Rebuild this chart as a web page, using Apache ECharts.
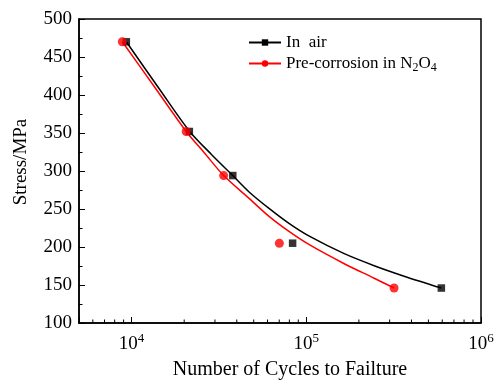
<!DOCTYPE html>
<html><head><meta charset="utf-8">
<script src="https://cdn.jsdelivr.net/npm/echarts@6/dist/echarts.min.js"></script>
<style>html,body{margin:0;padding:0;background:#fff}#c{width:503px;height:381px}</style>
</head><body><div id="c"></div>
<script>
const seriesNames = ['In  air', 'Pre-corrosion in N2O4'];
// measured points
const airCycles = [9330, 21400, 37950, 83500, 593000];
const airStress = [470, 352, 294, 205, 146];
const n2o4Cycles = [8850, 20540, 33650, 70100, 318000];
const n2o4Stress = [470, 352, 294, 205, 146];
// fitted curves
const airFitCycles = [9330, 14454, 21450, 28650, 37950, 47240, 61460, 79960, 104000, 164900, 244700, 363100, 593000];
const airFitStress = [470, 407.6, 352.4, 321.8, 294, 272.1, 250.4, 230.7, 214.2, 191.2, 175.4, 161.6, 146];
const n2o4FitCycles = [8850, 13536, 20540, 26130, 33650, 47240, 61460, 79960, 104000, 164900, 244700, 318000];
const n2o4FitStress = [470, 410.5, 352, 323.7, 294, 263.6, 239.9, 220.1, 203, 178, 158.9, 146];
const xMin = 5000, xMax = 1000000;
const yMin = 100, yMax = 500, yStep = 50;
const xMinorTicks = [6000, 7000, 8000, 9000, 20000, 30000, 40000, 50000, 60000, 70000, 80000, 90000,
  200000, 300000, 400000, 500000, 600000, 700000, 800000, 900000];

const zip = (a, b) => a.map((v, i) => [v, b[i]]);
const FONT = '"Liberation Serif", "Times New Roman", serif';

const chart = echarts.init(document.getElementById('c'), null, {renderer: 'canvas'});
chart.setOption({
  animation: false,
  backgroundColor: '#fff',
  grid: {left: 79, top: 19, right: 22, bottom: 58, outerBoundsMode: 'none', containLabel: false,
    show: true, borderColor: '#000', borderWidth: 1.5, backgroundColor: 'transparent'},
  legend: {
    orient: 'vertical', left: 243, top: 29, itemWidth: 32, itemHeight: 8, itemGap: 4,
    data: seriesNames,
    formatter: n => n === seriesNames[1] ? 'Pre-corrosion in N{sub|2}O{sub|4}' : n,
    textStyle: {fontFamily: FONT, fontSize: 17, color: '#000',
      rich: {sub: {fontFamily: FONT, fontSize: 12, color: '#000', padding: [9, 0, 0, 0]}}}
  },
  xAxis: {
    type: 'log', logBase: 10, min: xMin, max: xMax,
    name: 'Number of Cycles to Failture', nameLocation: 'middle', nameGap: 37,
    nameTextStyle: {fontFamily: FONT, fontSize: 20, color: '#000', padding: [0, 0, 0, 20]},
    axisLine: {lineStyle: {color: '#000', width: 1.5}},
    axisTick: {inside: true, length: 6, lineStyle: {color: '#000', width: 1}},
    splitLine: {show: false},
    axisLabel: {
      margin: 9, fontFamily: FONT, fontSize: 19, color: '#000',
      formatter: v => {
        const l = Math.log10(v), e = Math.round(l);
        if (Math.abs(l - e) > 1e-6) return '';
        return '10{sup|' + e + '}';
      },
      rich: {sup: {fontFamily: FONT, fontSize: 13, color: '#000', padding: [0, 0, 11, 0]}}
    }
  },
  yAxis: {
    type: 'value', min: yMin, max: yMax, interval: yStep,
    name: 'Stress/MPa', nameLocation: 'middle', nameGap: 48,
    nameTextStyle: {fontFamily: FONT, fontSize: 19, color: '#000', padding: [0, 0, 0, 18]},
    axisLine: {lineStyle: {color: '#000', width: 1.5}},
    axisTick: {inside: true, length: 6, lineStyle: {color: '#000', width: 1}},
    minorTick: {show: true, splitNumber: 2, length: 3.5, lineStyle: {color: '#000', width: 1}},
    splitLine: {show: false},
    axisLabel: {margin: 7, fontFamily: FONT, fontSize: 19, color: '#000'}
  },
  series: [
    {name: seriesNames[0], type: 'line', smooth: 0.3, data: zip(airFitCycles, airFitStress),
      symbol: 'rect', symbolSize: 7, showSymbol: false, color: '#000',
      lineStyle: {color: '#000', width: 1.5}, z: 2},
    {name: seriesNames[1], type: 'line', smooth: 0.3, data: zip(n2o4FitCycles, n2o4FitStress),
      symbol: 'circle', symbolSize: 8, showSymbol: false, color: '#ff0000',
      lineStyle: {color: '#ff0000', width: 1.5}, z: 2},
    {name: 'air-points', type: 'scatter', data: zip(airCycles, airStress), symbol: 'rect', symbolSize: 7.5,
      itemStyle: {color: '#000'}, z: 3},
    {name: 'n2o4-points', type: 'scatter', data: zip(n2o4Cycles, n2o4Stress), symbol: 'circle', symbolSize: 9,
      itemStyle: {color: '#ff0000'}, z: 4},
    {name: 'minor-ticks', type: 'custom', silent: true, clip: false,
      data: xMinorTicks.map(v => [v, yMin]), encode: {x: 0, y: 1},
      renderItem: (params, api) => {
        const p = api.coord([api.value(0), api.value(1)]);
        return {type: 'line', shape: {x1: p[0], y1: p[1], x2: p[0], y2: p[1] - 3.5},
          style: {stroke: '#000', lineWidth: 1}};
      }, z: 5}
  ]
});
</script></body></html>
